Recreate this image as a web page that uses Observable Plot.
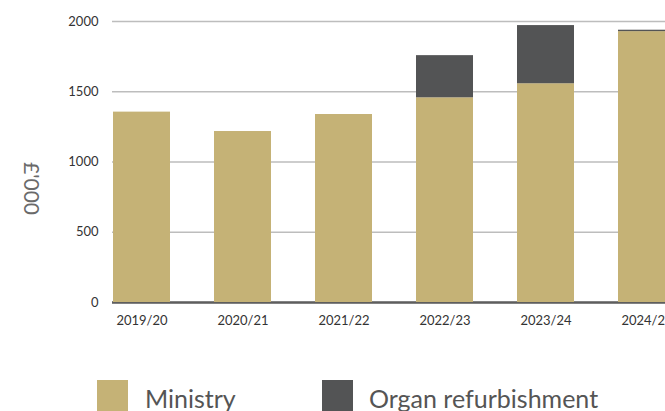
<!DOCTYPE html>
<html><head><meta charset="utf-8">
<script src="https://cdn.jsdelivr.net/npm/d3@7"></script>
<script src="https://cdn.jsdelivr.net/npm/@observablehq/plot@0.6"></script>
<style>
html,body{margin:0;padding:0;overflow:hidden;background:#fff;width:665px;height:411px;position:relative}
#chart svg{display:block}
.sw{position:absolute;top:380px;width:31px;height:40px}
.lt{position:absolute;top:386px;font-family:Lato,sans-serif;font-size:25px;line-height:25px;color:#555;white-space:nowrap}
</style></head><body>
<div id="chart"></div>
<div id="legend"></div>
<script>
const years = ["2019/20","2020/21","2021/22","2022/23","2023/24","2024/25"];
const ministry = [1355,1217,1338,1457,1557,1928];
const organ = [0,0,0,300,414,10];
const series = ["Ministry","Organ refurbishment"];
const colors = ["#c5b276","#535455"];
const yTicks = [0,500,1000,1500,2000];

const data = [];
years.forEach((y,i)=>{
  data.push({year:y, series:series[0], value:ministry[i]});
  data.push({year:y, series:series[1], value:organ[i]});
});

const chart = Plot.plot({
  width: 665, height: 340,
  marginLeft: 112, marginRight: 0, marginTop: 21, marginBottom: 38,
  style: {fontFamily: "Lato, sans-serif", fontSize: "13px", color: "#333", background: "#fff"},
  x: {domain: years, range: [112, 675.5], paddingInner: 0.437, paddingOuter: 0, label: null},
  y: {domain: [0, 2000], label: null},
  color: {domain: series, range: colors},
  marks: [
    Plot.gridY(yTicks, {stroke: "#bdbdbd", strokeOpacity: 1, strokeWidth: 1.6}),
    Plot.ruleY([0], {stroke: "#5e5e5e", strokeWidth: 2.5}),
    Plot.barY(data, {x: "year", y: "value", fill: "series", order: series}),
    Plot.axisY(yTicks, {tickSize: 0, tickPadding: 14, label: null, fontSize: 13, fill: "#333", tickFormat: d => String(d)}),
    Plot.axisX({tickSize: 0, tickPadding: 13, label: null, fontSize: 13, fill: "#333"}),
    Plot.text(["£'000"], {frameAnchor: "left", dx: -82, rotate: 90, fontSize: 21, fill: "#6a6a6a"})
  ]
});
document.getElementById("chart").appendChild(chart);

const legend = document.getElementById("legend");
const legendX = [[97,145],[322,369]];
series.forEach((s,i)=>{
  const sw = document.createElement("div");
  sw.className = "sw"; sw.style.left = legendX[i][0]+"px"; sw.style.background = colors[i];
  legend.appendChild(sw);
  const t = document.createElement("div");
  t.className = "lt"; t.style.left = legendX[i][1]+"px"; t.textContent = s;
  legend.appendChild(t);
});
</script>
</body></html>
